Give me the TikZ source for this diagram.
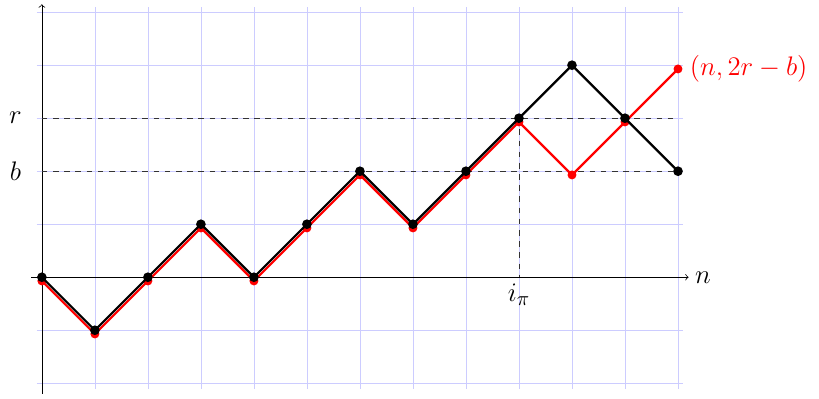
\documentclass[tikz,border=0pt]{standalone}
\usepackage{tikz}
\usetikzlibrary{positioning}

\begin{document}
\begin{tikzpicture}[
    lbl/.style={font=\fontsize{15.6}{19}\selectfont},
    walk/.style={line width=1.2pt}]
    \useasboundingbox (-0.79,-2.28) rectangle (14.66,5.23);

    % Grid
    \draw[blue!20, thin] (-0.1,-2.1) grid (12.1,5.1);

    % Axes
    \draw[->] (0,-2.2) -- (0,5.15);
    \coordinate (xstart) at (-0.2,0);
    \node[lbl, right] (n) at (12.2,0) {$n$};
    \draw[->] (xstart) -- (n.west);

    % Levels r and b
    \node[lbl] (r) at (-0.5,3) {$r$};
    \node[lbl] (b) at (-0.5,2) {$b$};
    \draw[dashed, black!80] (0,3) coordinate (r0) -- (12,3) coordinate (r1);
    \draw[dashed, black!80] (0,2) coordinate (b0) -- (12,2) coordinate (b1);

    % Walk points
    \foreach \y [count=\x from 0] in {0,-1,0,1,0,1,2,1,2,3,4,3,2}
        \coordinate (k\x) at (\x,\y);
    \foreach \y [count=\x from 0] in {0,-1,0,1,0,1,2,1,2,3,2,3,4}
        \coordinate (q\x) at ([yshift=-2pt]\x,\y);

    % First hitting time
    \node[lbl, below] (ipi) at (9,0) {$i_\pi$};
    \draw[dashed, black!80] (k9) -- (9,0);

    % Reflected walk
    \draw[walk, red] (q0) \foreach \i in {1,...,12} {-- (q\i)};
    \foreach \i in {0,...,12}
        \fill[red] (q\i) circle (2.4pt);
    \node[lbl, red, right=0.1 of q12] (end) {$(n,2r-b)$};

    % Original walk
    \draw[walk] (k0) \foreach \i in {1,...,12} {-- (k\i)};
    \foreach \i in {0,...,12}
        \fill (k\i) circle (2.6pt);
\end{tikzpicture}
\end{document}
